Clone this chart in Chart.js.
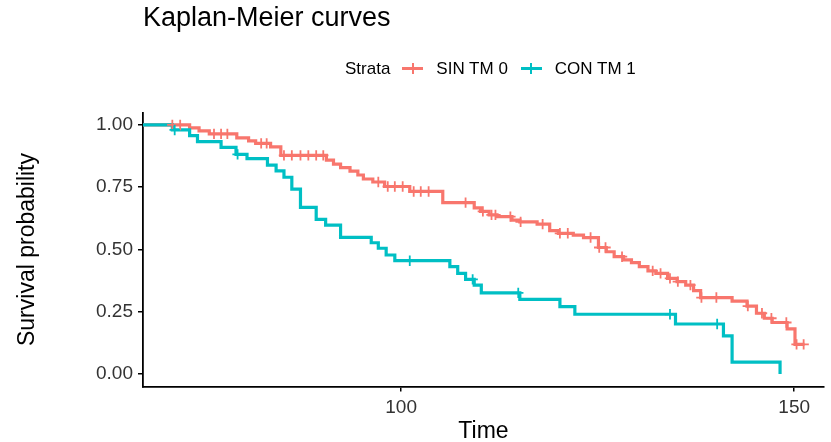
<!DOCTYPE html>
<html>
<head>
<meta charset="utf-8">
<title>Kaplan-Meier curves</title>
<script src="https://cdn.jsdelivr.net/npm/chart.js@4.4.1/dist/chart.umd.min.js"></script>
<style>
  html, body { margin: 0; padding: 0; background: #fff; }
  #wrap { position: relative; width: 831px; height: 442px; font-family: "Liberation Sans", Arial, sans-serif; }
  #km-canvas { position: absolute; left: 0; top: 0; }
  #h-title { position: absolute; left: 143px; top: 4px; margin: 0; font-size: 27px; line-height: 27px; font-weight: normal; color: #000; white-space: nowrap; }
  #km-legend { position: absolute; left: 345px; top: 60px; display: flex; align-items: center; font-size: 17px; line-height: 17px; color: #000; white-space: nowrap; }
  #km-legend .lab { margin-right: 12px; }
  #km-legend .item { margin-right: 13px; }
  #km-legend .key { position: relative; width: 21px; height: 17px; margin-right: 13px; }
  #km-legend .key::before { content: ""; position: absolute; left: 0; right: 0; top: 7px; height: 3px; background: var(--c); }
  #km-legend .key::after { content: ""; position: absolute; left: 9.5px; width: 2px; top: 3px; height: 11px; background: var(--c); }
</style>
</head>
<body>
<div id="wrap">
  <canvas id="km-canvas" width="831" height="442"></canvas>
  <h1 id="h-title">Kaplan-Meier curves</h1>
  <div id="km-legend"></div>
</div>
<script>
const strataTitle = 'Strata';
const strataNames = ['SIN TM 0', 'CON TM 1'];
const strataColors = ['#F8766D', '#00BFC4'];

// SIN TM 0: event times and survival after each drop
const sinTime = [0, 73.1, 74.3, 75.6, 79.1, 80.6, 81.5, 83.4, 84.7, 90.5, 91.4, 92.3, 93.5, 94.5, 95.2, 96.4, 97.9,
  101.1, 105.3, 109.3, 110.1, 111.2, 112.2, 114.1, 115.1, 117.3, 118.9, 120.0, 121.9, 123.2, 125.1, 126.1, 127.1,
  128.3, 129.3, 130.3, 131.4, 132.4, 133.9, 135.1, 136.2, 137.2, 138.1, 142.1, 144.0, 145.2, 146.2, 147.2, 149.1,
  150.1, 151.3];
const sinSurv = [1.000, 0.988, 0.976, 0.964, 0.948, 0.936, 0.926, 0.912, 0.878, 0.859, 0.843, 0.829, 0.815, 0.799, 0.783, 0.771, 0.753,
  0.733, 0.688, 0.667, 0.653, 0.639, 0.632, 0.618, 0.611, 0.602, 0.576, 0.565, 0.558, 0.548, 0.508, 0.491, 0.471,
  0.458, 0.447, 0.431, 0.414, 0.404, 0.384, 0.371, 0.357, 0.335, 0.307, 0.293, 0.273, 0.244, 0.224, 0.207, 0.181,
  0.119, 0.119];

// SIN TM 0: censored observations
const sinCensorTime = [70.9, 71.9, 76.2, 77.1, 77.9, 82.2, 82.9, 85.1, 86.1, 87.2, 88.2, 89.2, 90.1, 97.1, 98.3, 99.2, 100.2,
  101.6, 102.5, 103.5, 108.2, 110.4, 111.5, 112.0, 113.9, 115.2, 118.0, 120.2, 121.2, 124.1, 125.2, 126.0, 128.1,
  132.0, 133.0, 134.2, 135.2, 136.8, 138.2, 140.1, 144.1, 145.9, 147.1, 149.0, 150.3, 151.2];
const sinCensorSurv = [1.000, 1.000, 0.964, 0.964, 0.964, 0.926, 0.926, 0.878, 0.878, 0.878, 0.878, 0.878, 0.878, 0.771, 0.753, 0.753, 0.753,
  0.733, 0.733, 0.733, 0.688, 0.653, 0.639, 0.639, 0.632, 0.611, 0.602, 0.565, 0.565, 0.548, 0.508, 0.508, 0.471,
  0.414, 0.404, 0.384, 0.371, 0.357, 0.307, 0.307, 0.273, 0.244, 0.224, 0.207, 0.119, 0.119];

// CON TM 1
const conTime = [0, 70.9, 73.1, 74.1, 77.1, 79.0, 80.4, 83.0, 84.1, 85.1, 86.1, 87.2, 89.2, 90.4, 92.3, 96.2, 97.1, 98.1,
  99.2, 106.2, 107.2, 108.2, 109.3, 110.2, 115.1, 120.2, 122.1, 134.9, 141.0, 142.1, 148.2];
const conSurv = [1.000, 0.980, 0.957, 0.933, 0.910, 0.882, 0.865, 0.839, 0.816, 0.790, 0.742, 0.669, 0.621, 0.598, 0.549, 0.527, 0.505, 0.478,
  0.455, 0.431, 0.404, 0.380, 0.357, 0.326, 0.300, 0.271, 0.240, 0.201, 0.153, 0.048, 0.000];
const conCensorTime = [71.2, 79.2, 101.1, 109.1, 114.9, 134.2, 140.2];
const conCensorSurv = [0.980, 0.882, 0.455, 0.380, 0.326, 0.240, 0.201];

const xTicks = [100, 150];
const yTicks = [0, 0.25, 0.5, 0.75, 1];

function toPoints(xs, ys) {
  return xs.map((x, i) => ({ x, y: ys[i] }));
}

function renderLegend() {
  const legend = document.getElementById('km-legend');
  const lab = document.createElement('span');
  lab.className = 'lab';
  lab.textContent = strataTitle;
  legend.appendChild(lab);
  strataNames.forEach((name, i) => {
    const key = document.createElement('span');
    key.className = 'key';
    key.style.setProperty('--c', strataColors[i]);
    const txt = document.createElement('span');
    txt.className = 'item';
    txt.textContent = name;
    legend.appendChild(key);
    legend.appendChild(txt);
  });
}

Chart.defaults.font.family = '"Liberation Sans", Arial, sans-serif';

const stepLine = (label, data, color, order) => ({
  type: 'line',
  label,
  data,
  borderColor: color,
  backgroundColor: color,
  borderWidth: 3.2,
  stepped: true,
  pointRadius: 0,
  fill: false,
  order,
});

const censorMarks = (label, data, color, order) => ({
  type: 'scatter',
  label,
  data,
  borderColor: color,
  backgroundColor: color,
  pointStyle: 'cross',
  pointRadius: 5.2,
  pointBorderWidth: 1.8,
  showLine: false,
  order,
});

renderLegend();

new Chart(document.getElementById('km-canvas'), {
  type: 'line',
  data: {
    datasets: [
      stepLine(strataNames[0], toPoints(sinTime, sinSurv), strataColors[0], 4),
      stepLine(strataNames[1], toPoints(conTime, conSurv), strataColors[1], 3),
      censorMarks(strataNames[0] + ' censored', toPoints(sinCensorTime, sinCensorSurv), strataColors[0], 2),
      censorMarks(strataNames[1] + ' censored', toPoints(conCensorTime, conCensorSurv), strataColors[1], 1),
    ],
  },
  options: {
    responsive: false,
    animation: false,
    layout: { padding: { top: 112.5, right: 2, left: 0, bottom: 0 } },
    plugins: {
      legend: { display: false },
      tooltip: { enabled: false },
    },
    scales: {
      x: {
        type: 'linear',
        min: 67.17,
        max: 153.79,
        afterBuildTicks(scale) { scale.ticks = xTicks.map(value => ({ value })); },
        afterFit(scale) { scale.height = 55.5; },
        grid: { drawOnChartArea: false, drawTicks: true, tickLength: 5, color: '#000', lineWidth: 1.5 },
        border: { display: true, color: '#000', width: 1.8 },
        ticks: { color: '#333', font: { size: 19 }, padding: 5, maxRotation: 0 },
        title: { display: true, text: 'Time', color: '#000', font: { size: 23, lineHeight: 0.9 }, padding: { top: 0, bottom: 0 } },
      },
      y: {
        min: -0.05,
        max: 1.05,
        afterBuildTicks(scale) { scale.ticks = yTicks.map(value => ({ value })); },
        afterFit(scale) { scale.width = 143; },
        grid: { drawOnChartArea: false, drawTicks: true, tickLength: 5, color: '#000', lineWidth: 1.5 },
        border: { display: true, color: '#000', width: 1.8 },
        ticks: { color: '#333', font: { size: 19 }, padding: 5, callback: v => v.toFixed(2) },
        title: { display: true, text: 'Survival probability', color: '#000', font: { size: 23 }, padding: { top: 14, bottom: 0 } },
      },
    },
  },
});
</script>
</body>
</html>
